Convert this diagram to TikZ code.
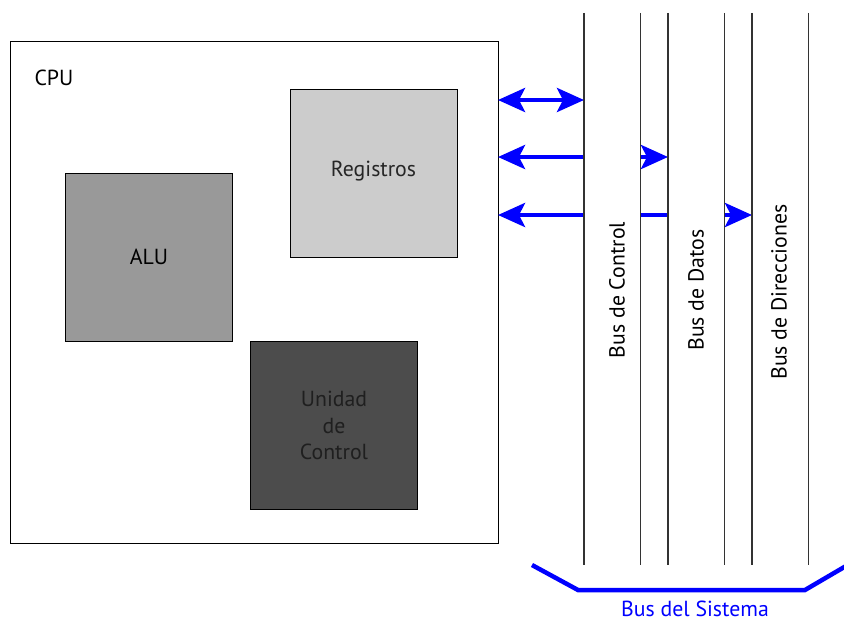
\documentclass[tikz,border=0pt]{standalone}
\usepackage{fontspec}
\setmainfont{PT Sans}
\usetikzlibrary{arrows.meta}
\definecolor{busblue}{RGB}{0,0,255}
\begin{document}
\begin{tikzpicture}[x=1pt,y=-1pt,
  txt/.style={font=\fontsize{21.8}{26.5}\selectfont},
  box/.style={draw=black,line width=1pt,minimum width=167pt,minimum height=168pt,inner sep=0pt,txt},
  strip/.style={fill=white,inner sep=0pt,minimum width=56pt,minimum height=552pt},
  busline/.style={draw=black!80,line width=1.4pt},
  busarrow/.style={draw=busblue,line width=4.5pt,{Stealth[length=27pt,width=24pt,inset=6pt]}-{Stealth[length=27pt,width=24pt,inset=6pt]}},
  buslabel/.style={rotate=90,txt}]
\useasboundingbox (0,0) rectangle (844,622);
% CPU
\node[draw=black,line width=1pt,minimum width=488pt,minimum height=502pt,inner sep=0pt] (cpu) at (254,292) {};
\node[anchor=west,txt] (cpulbl) at (31,78) {CPU};
\node[box,fill=black!20,text=black!85,text depth=9pt] (reg) at (373.5,173) {Registros};
\node[box,fill=black!40] (alu) at (149,257) {ALU};
\node[box,fill=black!70,text=black!88,align=center] (uc) at (334,425.5) {Unidad\\de\\Control};
% coordinates for arrows
\coordinate (a1) at (498,100);
\coordinate (b1) at (584,100);
\coordinate (a2) at (498,157);
\coordinate (b2) at (668,157);
\coordinate (a3) at (498,215);
\coordinate (b3) at (752,215);
\draw[busarrow] (a1) -- (b1);
\draw[busarrow] (a2) -- (b2);
\draw[busarrow] (a3) -- (b3);
% bus strips
\node[strip] (s1) at (612,289) {};
\node[strip] (s2) at (696,289) {};
\node[strip] (s3) at (780,289) {};
\foreach \s in {s1,s2,s3}{
  \draw[busline] (\s.north west) -- (\s.south west);
  \draw[busline] (\s.north east) -- (\s.south east);
}
\node[buslabel] (l1) at (617,290) {Bus de Control};
\node[buslabel] (l2) at (696,290) {Bus de Datos};
\node[buslabel] (l3) at (779,292) {Bus de Direcciones};
% system bus bracket
\coordinate (k1) at (532,565);
\coordinate (k2) at (578,590);
\coordinate (k3) at (805,590);
\coordinate (k4) at (846,566);
\draw[busblue,line width=4.5pt] (k1) -- (k2) -- (k3) -- (k4);
\node[text=busblue,txt] (sys) at (695,609) {Bus del Sistema};
\end{tikzpicture}
\end{document}
